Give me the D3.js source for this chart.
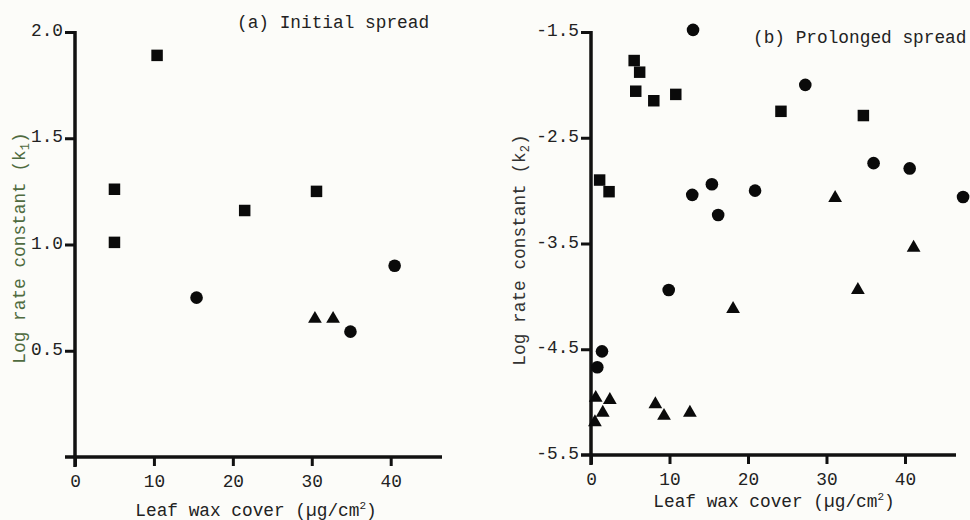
<!DOCTYPE html>
<html lang="en">
<head>
  <meta charset="UTF-8">
  <title>Leaf wax cover vs log rate constant</title>
  <style>
    body {
      margin: 0;
      background: #fcfcf9;
    }

    svg text {
      font-family: 'Liberation Mono', 'DejaVu Sans Mono', monospace;
      font-size: 17.8px;
      fill: #222;
    }
  </style>
</head>
<body>
  <div id="chart"></div>
<script src="https://d3js.org/d3.v7.min.js"></script>
<script>
    // (a) Initial spread - log k1
    var aSquareX = [5.0, 5.0, 10.4, 21.5, 30.6];
    var aSquareY = [1.26, 1.01, 1.89, 1.16, 1.25];
    var aCircleX = [15.4, 34.9, 40.5];
    var aCircleY = [0.75, 0.59, 0.90];
    var aTriangleX = [30.4, 32.7];
    var aTriangleY = [0.65, 0.65];
    var aTicksY = [0.5, 1.0, 1.5, 2.0];

    // (b) Prolonged spread - log k2
    var bSquareX = [5.5, 6.2, 5.7, 8.0, 10.8, 24.2, 34.7, 1.1, 2.3];
    var bSquareY = [-1.77, -1.88, -2.06, -2.15, -2.09, -2.25, -2.29, -2.90, -3.01];
    var bCircleX = [13.0, 27.3, 36.0, 40.6, 47.4, 12.9, 15.4, 20.9, 16.2, 9.9, 1.4, 0.8];
    var bCircleY = [-1.48, -2.00, -2.74, -2.79, -3.06, -3.04, -2.94, -3.00, -3.23, -3.94, -4.52, -4.67];
    var bTriangleX = [31.1, 41.1, 34.0, 18.1, 0.6, 2.4, 1.5, 0.5, 8.2, 9.3, 12.6];
    var bTriangleY = [-3.07, -3.54, -3.94, -4.12, -4.96, -4.98, -5.10, -5.19, -5.02, -5.13, -5.10];
    var bTicksY = [-5.5, -4.5, -3.5, -2.5, -1.5];

    var ticksX = [0, 10, 20, 30, 40];

    var svg = d3.select("#chart")
      .append("svg")
      .attr("width", 970)
      .attr("height", 520);

    function pairs(xs, ys) {
      return xs.map(function (d, i) { return [d, ys[i]]; });
    }

    function drawPanel(p) {
      var x = d3.scaleLinear().domain([0, 46.5]).range([p.left, p.right]);
      var y = d3.scaleLinear().domain(p.yDomain).range([p.bottom, p.top]);
      var lw = 3.5;

      // axis lines as filled bars, drawn a bit past the origin like the original
      var axes = svg.append("g").attr("fill", "#111");
      axes.append("rect")
        .attr("x", x(0) - lw / 2).attr("width", lw)
        .attr("y", y(p.yDomain[1]) - 1)
        .attr("height", y(p.yDomain[0]) + 10 - y(p.yDomain[1]) + 1);
      axes.append("rect")
        .attr("x", x(0) - 10).attr("width", x(46.5) - x(0) + 10)
        .attr("y", y(p.yDomain[0]) - lw / 2).attr("height", lw);

      var yAxis = svg.append("g")
        .attr("transform", "translate(" + x(0) + ",0)")
        .call(d3.axisLeft(y).tickValues(p.ticksY).tickSize(10).tickPadding(2)
          .tickFormat(function (d) { return d.toFixed(1); }));
      yAxis.select(".domain").remove();
      yAxis.selectAll(".tick line").attr("stroke", "#111").attr("stroke-width", 3);
      yAxis.selectAll("text").attr("dy", "0.2em");
      yAxis.selectAll(".tick line").filter(function (d) { return d === p.yDomain[0]; }).remove();

      var xAxis = svg.append("g")
        .attr("transform", "translate(0," + y(p.yDomain[0]) + ")")
        .call(d3.axisBottom(x).tickValues(ticksX).tickSize(9).tickPadding(8)
          .tickFormat(d3.format("d")));
      xAxis.select(".domain").remove();
      xAxis.selectAll(".tick line").attr("stroke", "#111").attr("stroke-width", 3);

      // markers
      var sym = d3.symbol();
      var marks = svg.append("g").attr("fill", "#0a0a0a");
      marks.selectAll(".sq").data(pairs(p.sqX, p.sqY)).join("path")
        .attr("transform", function (d) { return "translate(" + x(d[0]) + "," + y(d[1]) + ")"; })
        .attr("d", sym.type(d3.symbolSquare).size(132)());
      marks.selectAll(".ci").data(pairs(p.ciX, p.ciY)).join("path")
        .attr("transform", function (d) { return "translate(" + x(d[0]) + "," + y(d[1]) + ")"; })
        .attr("d", sym.type(d3.symbolCircle).size(125)());
      marks.selectAll(".tr").data(pairs(p.trX, p.trY)).join("path")
        .attr("transform", function (d) { return "translate(" + x(d[0]) + "," + y(d[1]) + ")"; })
        .attr("d", sym.type(d3.symbolTriangle).size(82)());

      // titles and labels
      svg.append("text")
        .attr("x", p.titleX).attr("y", p.titleY)
        .text(p.title);

      var xl = svg.append("text")
        .attr("x", p.xLabelX).attr("y", p.xLabelY)
        .attr("text-anchor", "middle")
        .text("Leaf wax cover (µg/cm");
      xl.append("tspan").attr("dy", -7).style("font-size", "11px").text("2");
      xl.append("tspan").attr("dy", 7).text(")");

      var yl = svg.append("text")
        .attr("transform", "translate(" + p.yLabelX + "," + p.yLabelY + ") rotate(-90)")
        .attr("text-anchor", "middle")
        .style("fill", p.yLabelColor)
        .text("Log rate constant (k");
      yl.append("tspan").attr("dy", 4).style("font-size", "12px").style("fill", p.yLabelColor).text(p.sub);
      yl.append("tspan").attr("dy", -4).style("fill", p.yLabelColor).text(")");
    }

    drawPanel({
      left: 75, right: 442, top: 32, bottom: 457,
      yDomain: [0, 2.0], ticksY: aTicksY,
      sqX: aSquareX, sqY: aSquareY, ciX: aCircleX, ciY: aCircleY, trX: aTriangleX, trY: aTriangleY,
      title: "(a) Initial spread", titleX: 237, titleY: 28,
      xLabelX: 256, xLabelY: 516,
      yLabelX: 25, yLabelY: 248, sub: "1",
      yLabelColor: "#4f6b40"
    });

    drawPanel({
      left: 591, right: 956, top: 32, bottom: 455,
      yDomain: [-5.5, -1.5], ticksY: bTicksY,
      sqX: bSquareX, sqY: bSquareY, ciX: bCircleX, ciY: bCircleY, trX: bTriangleX, trY: bTriangleY,
      title: "(b) Prolonged spread", titleX: 753, titleY: 43,
      xLabelX: 774, xLabelY: 507,
      yLabelX: 525, yLabelY: 250, sub: "2",
      yLabelColor: "#333"
    });
</script>
</body>
</html>
